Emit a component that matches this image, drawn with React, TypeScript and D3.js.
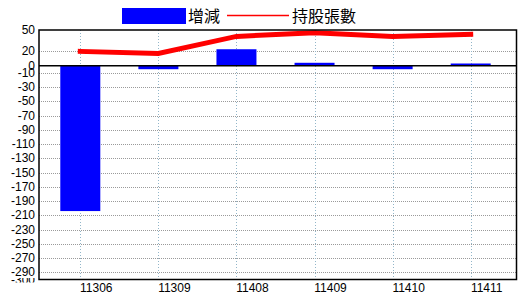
import React from 'react';
import * as d3 from 'd3';

const categories = ['11306', '11309', '11408', '11409', '11410', '11411'];
const changeValues = [-204, -5, 23, 4, -5, 3];
const holdingValues = [20, 17, 41, 46, 41, 44];
const yTickValues = [50, 20, 0, -10, -30, -50, -70, -90, -110, -130, -150, -170, -190, -210, -230, -250, -270, -290];
const legendLabels = ['增減', '持股張數'];

const W = 520, H = 300;
const left = 39, right = 516.5, top = 30, bottom = 279.5;

export default function App() {
  const y = d3.scaleLinear().domain([50, -300]).range([top, bottom]);
  const x = d3.scaleLinear().domain([0, categories.length - 1]).range([80.3, 470.7]);
  const barW = 40;
  const line = d3.line<number>().x((_, i) => x(i)).y(d => y(d));
  const font = '"Liberation Sans", Arial, sans-serif';
  const cjk = '"Noto Sans CJK TC", "Noto Sans CJK SC", sans-serif';
  return (
    <svg width={W} height={H} style={{ position: 'absolute', left: 0, top: 0, background: '#fff' }}>
      <defs>
        <clipPath id="c300"><rect x={0} y={278} width={38} height={4.5} /></clipPath>
      </defs>
      <rect x={0} y={0} width={W} height={H} fill="#fff" />
      {/* horizontal grid */}
      {yTickValues.filter(v => v !== 0 && v !== 50).map(v => (
        <line key={'h' + v} x1={left} x2={right} y1={Math.round(y(v)) + 0.5} y2={Math.round(y(v)) + 0.5}
          stroke="#9a9a9a" strokeWidth={1} strokeDasharray="1,1" />
      ))}
      {/* vertical grid */}
      {categories.map((c, i) => (
        <line key={'v' + c} x1={Math.round(x(i)) + 0.5} x2={Math.round(x(i)) + 0.5} y1={top} y2={bottom}
          stroke="#93b6c9" strokeWidth={1} strokeDasharray="1,2" />
      ))}
      {/* bars */}
      {changeValues.map((v, i) => (
        <rect key={'b' + i} x={x(i) - barW / 2} width={barW}
          y={Math.min(y(v), y(0))} height={Math.abs(y(v) - y(0))} fill="#0000ff" />
      ))}
      {/* zero line */}
      <line x1={left} x2={right} y1={y(0)} y2={y(0)} stroke="#000" strokeWidth={1.5} />
      {/* holdings line */}
      <path d={line(holdingValues) || ''} fill="none" stroke="#ff0000" strokeWidth={5} strokeLinecap="square" />
      {/* frame */}
      <rect x={left} y={top} width={right - left} height={bottom - top} fill="none" stroke="#000" strokeWidth={1.5} />
      {/* y labels */}
      <g clipPath="url(#c300)">
        <text x={35} y={y(-300)} textAnchor="end" dominantBaseline="central" fontFamily={font} fontSize={12}>-300</text>
      </g>
      {yTickValues.map(v => (
        <text key={'yl' + v} x={35} y={y(v)} textAnchor="end" dominantBaseline="central"
          fontFamily={font} fontSize={12} fill="#000">{v}</text>
      ))}
      {/* x labels */}
      {categories.map((c, i) => (
        <text key={'xl' + c} x={x(i) + 16} y={292} textAnchor="middle" fontFamily={font} fontSize={12} fill="#000">{c}</text>
      ))}
      {/* legend */}
      <rect x={122} y={8} width={64} height={16} fill="#0000ff" />
      <text x={188} y={22} fontFamily={cjk} fontSize={16} fill="#000">{legendLabels[0]}</text>
      <line x1={227} x2={289} y1={15.5} y2={15.5} stroke="#ff0000" strokeWidth={1.5} />
      <text x={292} y={22} fontFamily={cjk} fontSize={16} fill="#000">{legendLabels[1]}</text>
    </svg>
  );
}
